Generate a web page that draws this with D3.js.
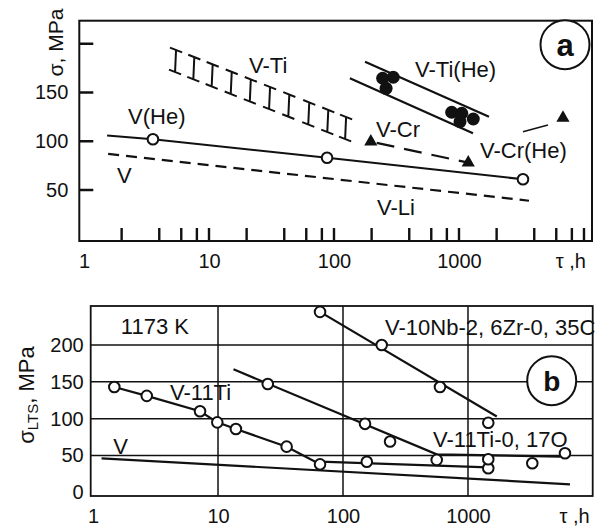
<!DOCTYPE html>
<html>
<head>
<meta charset="utf-8">
<script src="https://cdn.jsdelivr.net/npm/d3@7"></script>
<style>
  body { margin: 0; background: #fff; }
  svg { display: block; font-family: "Liberation Sans", Arial, sans-serif; }
</style>
</head>
<body>
<script>
// ---------- panel (a) : tau in h, sigma in MPa ----------
const tauLabels = [1, 10, 100, 1000];
const tauTicksA = [2, 4, 6, 8, 10, 20, 40, 60, 80, 100, 200, 400, 600, 800,
                   1000, 2000, 4000, 6000, 8000, 10000];
const sigmaTicksA = [50, 100, 150, 200];
const sigmaLabelsA = [50, 100, 150];

const vHeLine = [[1.53, 106], [3.56, 102], [88, 83], [3250, 61]];
const vHeCircles = [[3.56, 102], [88, 83], [3250, 61]];
const vDashed = [[1.56, 87], [3630, 39]];
// V-Ti band drawn as "I" hatches
const vTiTaus = [5.45, 7.63, 10.7, 15.2, 21.6, 30.8, 43.9, 63.4, 90, 125];
const vTiUpper = [[5.45, 193.6], [125, 124.9]];
const vTiLower = [[5.45, 171], [125, 102.3]];
const vTiHeUpper = [[177, 181.6], [1738, 125.2]];
const vTiHeLower = [[134, 164.6], [1294, 108.2]];
const vTiHeDots = [[245, 164.6], [298, 165.6], [261, 154.3],
                   [874, 129.7], [1052, 128.7], [1019, 120.1], [1301, 122.8]];
const vCrTriangles = [[197, 99.6], [1186, 78]];
const vCrHeTriangle = [[6790, 124]];
const vCrHeLeader = [[3250, 109.8], [5150, 116.7]];
const labelsA = [["V(He)", 2.25, 117.7], ["V-Ti", 20.9, 170], ["V-Ti(He)", 445, 165.9],
                 ["V-Cr", 217, 103.9], ["V-Cr(He)", 1472, 82.8], ["V-Li", 221, 24.4],
                 ["V", 1.84, 57.2]];

// ---------- panel (b) : 1173 K ----------
const sigmaGridB = [50, 100, 150, 200];
const sigmaLabelsB = [0, 50, 100, 150, 200];
const tauGridB = [10, 100, 1000];

const v11TiLine = [[1.48, 143], [2.69, 131], [7.18, 110], [9.87, 95], [13.9, 86],
                   [35.4, 62], [65.5, 38]];
const v11TiTail = [[65.5, 41.6], [1453, 34]];
const v11TiCircles = [[1.48, 143], [2.69, 131], [7.18, 110], [9.87, 95], [13.9, 86],
                      [35.4, 62], [65.5, 38], [155, 41.6], [1453, 32.6]];
const vNbLine = [[65.5, 245], [1700, 103]];
const vNbCircles = [[65.5, 245], [204, 200], [597, 143], [1453, 94.5]];
const o17Line = [[13.3, 167], [562, 51.6], [5500, 48.5]];
const o17Circles = [[25, 147], [150, 93], [238, 69], [562, 44], [1453, 45],
                    [3270, 39.4], [5970, 53]];
const vLineB = [[1.17, 46.2], [6546, 10.9]];
const labelsB = [["1173 K", 1.67, 215], ["V-10Nb-2, 6Zr-0, 35C", 217, 213.6],
                 ["V-11Ti", 4.13, 125.4], ["V-11Ti-0, 17O", 525, 61.9], ["V", 1.45, 52]];

const W = 601, H = 527;
const ink = "#111";
const svg = d3.select("body").append("svg").attr("width", W).attr("height", H);

// frames
const A = { left: 79.3, right: 592, top: 20.7, bottom: 241 };
const B = { left: 90.7, right: 592.7, top: 306, bottom: 496 };

const xA = d3.scaleLog().domain([0.917, 11590]).range([A.left, A.right]);
const yA = d3.scaleLinear().domain([-2.3, 223.6]).range([A.bottom, A.top]);
const xB = d3.scaleLog().domain([0.958, 9950]).range([B.left, B.right]);
const yB = d3.scaleLinear().domain([-5, 253]).range([B.bottom, B.top]);

function line(x, y) {
    return d3.line().x(d => x(d[0])).y(d => y(d[1]));
}

// ===== panel a =====
const ga = svg.append("g");

ga.append("rect").attr("x", A.left).attr("y", A.top)
  .attr("width", A.right - A.left).attr("height", A.bottom - A.top)
  .attr("fill", "none").attr("stroke", ink).attr("stroke-width", 2);

// inward tick marks
const tickPath = tauTicksA.map(d => `M${xA(d)},${A.bottom}V${A.bottom - 13}`).join("")
  + sigmaTicksA.map(d => `M${A.left},${yA(d)}H${A.left + 14}`).join("");
ga.append("path").attr("d", tickPath)
  .attr("fill", "none").attr("stroke", ink).attr("stroke-width", 2.4);

// tick labels
ga.append("g").attr("transform", `translate(0,${A.bottom})`)
  .call(d3.axisBottom(xA).tickValues(tauLabels).tickSize(0).tickPadding(13).tickFormat(d3.format("d")))
  .call(g => g.select(".domain").remove())
  .selectAll("text").attr("font-size", 20).attr("fill", ink).attr("font-family", null);
ga.append("g").attr("transform", `translate(${A.left},0)`)
  .call(d3.axisLeft(yA).tickValues(sigmaLabelsA).tickSize(0).tickPadding(11))
  .call(g => g.select(".domain").remove())
  .selectAll("text").attr("font-size", 20).attr("fill", ink).attr("font-family", null);

ga.append("text").attr("x", A.right - 6).attr("y", 268).attr("text-anchor", "end")
  .attr("font-size", 20).attr("fill", ink).text("τ ,h");
ga.append("text").attr("transform", "translate(63,42.5) rotate(-90)")
  .attr("text-anchor", "middle").attr("font-size", 21).attr("fill", ink).text("σ, MPa");

// V(He)
ga.append("path").attr("d", line(xA, yA)(vHeLine))
  .attr("fill", "none").attr("stroke", ink).attr("stroke-width", 2);
// V (dashed)
ga.append("path").attr("d", line(xA, yA)(vDashed))
  .attr("fill", "none").attr("stroke", ink).attr("stroke-width", 2.2)
  .attr("stroke-dasharray", "11,7");
// V-Cr (long dashes)
ga.append("path").attr("d", line(xA, yA)(vCrTriangles))
  .attr("fill", "none").attr("stroke", ink).attr("stroke-width", 2.2)
  .attr("stroke-dasharray", "18,10").attr("stroke-dashoffset", -6);
// V-Cr(He) leader
ga.append("path").attr("d", line(xA, yA)(vCrHeLeader))
  .attr("fill", "none").attr("stroke", ink).attr("stroke-width", 1.5);
// V-Ti(He) band
[vTiHeUpper, vTiHeLower].forEach(s => {
    ga.append("path").attr("d", line(xA, yA)(s))
      .attr("fill", "none").attr("stroke", ink).attr("stroke-width", 2.2);
});

// V-Ti hatches
const lt0 = Math.log10(vTiUpper[0][0]), lt1 = Math.log10(vTiUpper[1][0]);
const bandAt = (s, t) => s[0][1] + (Math.log10(t) - lt0) / (lt1 - lt0) * (s[1][1] - s[0][1]);
const capAng = Math.atan2(yA(vTiUpper[1][1]) - yA(vTiUpper[0][1]),
                          xA(vTiUpper[1][0]) - xA(vTiUpper[0][0]));
const cdx = 6.5 * Math.cos(capAng), cdy = 6.5 * Math.sin(capAng);
const hatch = ga.append("g").attr("stroke", ink).attr("stroke-width", 2).attr("fill", "none");
vTiTaus.forEach(t => {
    const x = xA(t), y1 = yA(bandAt(vTiUpper, t)), y2 = yA(bandAt(vTiLower, t));
    hatch.append("path").attr("d",
        `M${x - cdx},${y1 - cdy}L${x + cdx},${y1 + cdy}` +
        `M${x},${y1}L${x - 1},${y2}` +
        `M${x - 1 - cdx},${y2 - cdy}L${x - 1 + cdx},${y2 + cdy}`);
});

// markers
ga.append("g").selectAll("circle").data(vHeCircles).join("circle")
  .attr("cx", d => xA(d[0])).attr("cy", d => yA(d[1])).attr("r", 5.3)
  .attr("fill", "#fff").attr("stroke", ink).attr("stroke-width", 2);
ga.append("g").selectAll("circle").data(vTiHeDots).join("circle")
  .attr("cx", d => xA(d[0])).attr("cy", d => yA(d[1])).attr("r", 6.5).attr("fill", ink);
const tri = d3.symbol(d3.symbolTriangle).size(75);
ga.append("g").selectAll("path").data(vCrTriangles.concat(vCrHeTriangle)).join("path")
  .attr("d", tri).attr("transform", d => `translate(${xA(d[0])},${yA(d[1])})`)
  .attr("fill", ink);

ga.append("g").selectAll("text").data(labelsA).join("text")
  .attr("x", d => xA(d[1])).attr("y", d => yA(d[2]))
  .attr("font-size", 22).attr("fill", ink).text(d => d[0]);

// "a" badge
ga.append("circle").attr("cx", A.right - 27).attr("cy", A.top + 24).attr("r", 24.5)
  .attr("fill", "#fff").attr("stroke", ink).attr("stroke-width", 2);
ga.append("text").attr("x", A.right - 27).attr("y", A.top + 24).attr("dy", "0.36em")
  .attr("text-anchor", "middle").attr("font-size", 31).attr("font-weight", "bold")
  .attr("fill", ink).text("a");

// ===== panel b =====
const gb = svg.append("g");

gb.append("g").selectAll("line").data(sigmaGridB).join("line")
  .attr("x1", B.left).attr("x2", B.right).attr("y1", d => yB(d)).attr("y2", d => yB(d))
  .attr("stroke", ink).attr("stroke-width", 1.5);
gb.append("g").selectAll("line").data(tauGridB).join("line")
  .attr("x1", d => xB(d)).attr("x2", d => xB(d)).attr("y1", B.top).attr("y2", B.bottom)
  .attr("stroke", ink).attr("stroke-width", 1.5);

gb.append("g").attr("transform", `translate(0,${B.bottom})`)
  .call(d3.axisBottom(xB).tickValues(tauLabels).tickSize(0).tickPadding(13).tickFormat(d3.format("d")))
  .call(g => g.select(".domain").remove())
  .selectAll("text").attr("font-size", 20).attr("fill", ink).attr("font-family", null);
gb.append("g").attr("transform", `translate(${B.left},0)`)
  .call(d3.axisLeft(yB).tickValues(sigmaLabelsB).tickSize(0).tickPadding(7))
  .call(g => g.select(".domain").remove())
  .selectAll("text").attr("font-size", 20).attr("fill", ink).attr("font-family", null);

gb.append("rect").attr("x", B.left).attr("y", B.top)
  .attr("width", B.right - B.left).attr("height", B.bottom - B.top)
  .attr("fill", "none").attr("stroke", ink).attr("stroke-width", 1.8);

gb.append("text").attr("x", B.right - 3).attr("y", 523).attr("text-anchor", "end")
  .attr("font-size", 20).attr("fill", ink).text("τ ,h");
const yt = gb.append("text").attr("transform", `translate(34,395) rotate(-90)`)
  .attr("text-anchor", "middle").attr("font-size", 22).attr("fill", ink);
yt.append("tspan").text("σ");
yt.append("tspan").attr("font-size", 15).attr("dy", 4).text("LTS");
yt.append("tspan").attr("dy", -4).text(", MPa");

[v11TiLine, v11TiTail, vNbLine, o17Line, vLineB].forEach(s => {
    gb.append("path").attr("d", line(xB, yB)(s))
      .attr("fill", "none").attr("stroke", ink).attr("stroke-width", 2.2);
});

gb.append("g").selectAll("circle").data(v11TiCircles.concat(vNbCircles, o17Circles)).join("circle")
  .attr("cx", d => xB(d[0])).attr("cy", d => yB(d[1])).attr("r", 5.3)
  .attr("fill", "#fff").attr("stroke", ink).attr("stroke-width", 2);

gb.append("g").selectAll("text").data(labelsB).join("text")
  .attr("x", d => xB(d[1])).attr("y", d => yB(d[2]))
  .attr("font-size", 22).attr("fill", ink).text(d => d[0]);

gb.append("circle").attr("cx", B.right - 41).attr("cy", 380.7).attr("r", 24.5)
  .attr("fill", "#fff").attr("stroke", ink).attr("stroke-width", 2);
gb.append("text").attr("x", B.right - 41).attr("y", 380.7).attr("dy", "0.36em")
  .attr("text-anchor", "middle").attr("font-size", 28).attr("font-weight", "bold")
  .attr("fill", ink).text("b");
</script>
</body>
</html>
